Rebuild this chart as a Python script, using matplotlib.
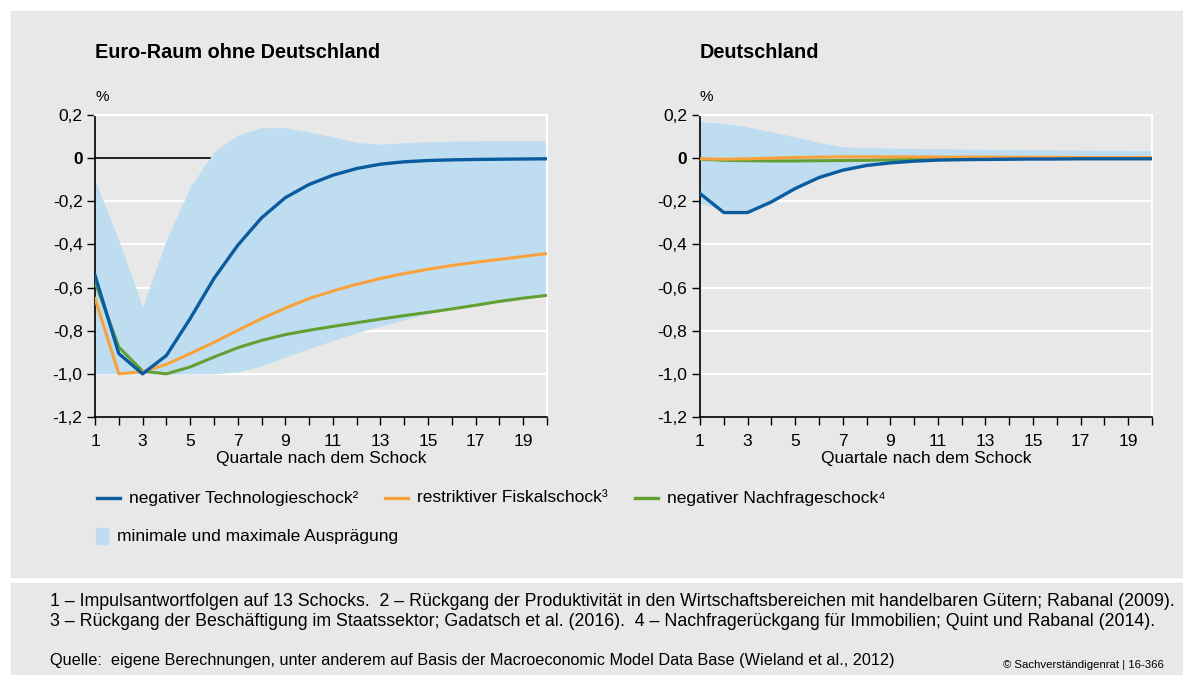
import numpy as np
import matplotlib.pyplot as plt
from matplotlib.patches import Rectangle
from matplotlib.lines import Line2D

plt.rcParams['font.family'] = ['Liberation Sans', 'DejaVu Sans']

quarters = np.arange(1, 21)

# Euro-Raum ohne Deutschland
ez_tech = [-0.543, -0.906, -1.0, -0.915, -0.744, -0.558, -0.404, -0.277, -0.183, -0.122,
           -0.079, -0.048, -0.028, -0.017, -0.011, -0.008, -0.006, -0.005, -0.004, -0.003]
ez_fisk = [-0.651, -1.0, -0.99, -0.956, -0.906, -0.854, -0.798, -0.744, -0.695, -0.651,
           -0.616, -0.585, -0.558, -0.535, -0.515, -0.498, -0.483, -0.469, -0.456, -0.442]
ez_nach = [-0.574, -0.876, -0.987, -1.0, -0.968, -0.922, -0.879, -0.845, -0.818, -0.798,
           -0.78, -0.763, -0.746, -0.730, -0.715, -0.699, -0.682, -0.664, -0.649, -0.636]
ez_max = [-0.102, -0.38, -0.69, -0.38, -0.133, 0.029, 0.107, 0.141, 0.141, 0.122,
          0.099, 0.073, 0.065, 0.071, 0.076, 0.079, 0.08, 0.081, 0.081, 0.081]
ez_min = [-1.0, -1.0, -1.0, -1.002, -1.0, -1.0, -0.99, -0.964, -0.922, -0.883,
          -0.845, -0.809, -0.778, -0.749, -0.721, -0.699, -0.682, -0.664, -0.649, -0.636]

# Deutschland
de_tech = [-0.164, -0.252, -0.252, -0.203, -0.141, -0.09, -0.056, -0.034, -0.022, -0.014,
           -0.009, -0.007, -0.006, -0.005, -0.004, -0.004, -0.003, -0.003, -0.003, -0.003]
de_fisk = [-0.003, -0.005, -0.003, 0.0, 0.003, 0.005, 0.006, 0.006, 0.006, 0.006,
           0.005, 0.005, 0.005, 0.004, 0.004, 0.004, 0.003, 0.003, 0.003, 0.003]
de_nach = [-0.005, -0.01, -0.012, -0.013, -0.013, -0.012, -0.011, -0.01, -0.008, -0.006,
           -0.004, -0.003, -0.002, -0.001, 0.0, 0.001, 0.001, 0.002, 0.002, 0.002]
de_max = [0.169, 0.161, 0.145, 0.122, 0.099, 0.073, 0.053, 0.048, 0.047, 0.045,
          0.044, 0.042, 0.041, 0.040, 0.039, 0.038, 0.037, 0.036, 0.035, 0.034]
de_min = [-0.21, -0.24, -0.24, -0.2, -0.14, -0.09, -0.056, -0.034, -0.022, -0.015,
          -0.011, -0.009, -0.008, -0.007, -0.006, -0.006, -0.005, -0.005, -0.005, -0.005]

yticks = [0.2, 0, -0.2, -0.4, -0.6, -0.8, -1.0, -1.2]
ytick_labels = ['0,2', '0', '-0,2', '-0,4', '-0,6', '-0,8', '-1,0', '-1,2']

bg = '#e8e8e8'
c_tech = '#0a5c9e'
c_fisk = '#f9a23c'
c_nach = '#62a033'
c_band = '#bfddf1'

W, H = 1183, 675
fig = plt.figure(figsize=(W / 100, H / 100), dpi=100, facecolor='white')

# background panels
fig.patches.append(Rectangle((11 / W, 1 - 577 / H), 1 - 11 / W, (577 - 11) / H,
                             transform=fig.transFigure, color=bg, zorder=-10))
fig.patches.append(Rectangle((11 / W, 0), 1 - 11 / W, 1 - 583 / H,
                             transform=fig.transFigure, color=bg, zorder=-10))


def panel(left_px, title, tech, fisk, nach, lo, hi):
    ax = fig.add_axes([left_px / W, (H - 417) / H, 452 / W, 302 / H])
    ax.set_facecolor(bg)
    ax.set_xlim(1, 20)
    ax.set_ylim(-1.2, 0.2)
    for y in [-0.2, -0.4, -0.6, -0.8, -1.0, 0.2]:
        ax.axhline(y, color='white', lw=1.6, zorder=1)
    ax.axhline(0, color='black', lw=1.2, zorder=1.5)
    ax.fill_between(quarters, lo, hi, color=c_band, lw=0, zorder=2)
    ax.plot(quarters, nach, color=c_nach, lw=2.2, zorder=3)
    ax.plot(quarters, fisk, color=c_fisk, lw=2.2, zorder=3)
    ax.plot(quarters, tech, color=c_tech, lw=2.4, zorder=4)
    ax.set_yticks(yticks)
    ax.set_yticklabels(ytick_labels, fontsize=12.5)
    ax.get_yticklabels()[1].set_fontweight('bold')
    ax.set_xticks(quarters)
    ax.set_xticklabels([str(q) if q % 2 == 1 else '' for q in quarters], fontsize=12.5)
    ax.tick_params(axis='both', direction='out', length=6, width=1, color='black', pad=3)
    ax.tick_params(axis='x', pad=6)
    for s in ['left', 'bottom']:
        ax.spines[s].set_color('black')
        ax.spines[s].set_linewidth(1.2)
    for s in ['top', 'right']:
        ax.spines[s].set_color('white')
        ax.spines[s].set_linewidth(1.6)
    ax.set_xlabel('Quartale nach dem Schock', fontsize=12.5, labelpad=2)
    ax.text(0, 1.035, '%', transform=ax.transAxes, fontsize=11, ha='left', va='bottom')
    fig.text(left_px / W, 1 - 52 / H, title, fontsize=14.3, fontweight='bold',
             ha='left', va='center')
    return ax


panel(95, 'Euro-Raum ohne Deutschland', ez_tech, ez_fisk, ez_nach, ez_min, ez_max)
panel(700, 'Deutschland', de_tech, de_fisk, de_nach, de_min, de_max)

# legend
leg_items = [(97, c_tech, 'negativer Technologieschock²'),
             (385, c_fisk, 'restriktiver Fiskalschock³'),
             (635, c_nach, 'negativer Nachfrageschock⁴')]
for x0, col, lab in leg_items:
    yl = 1 - 498 / H
    fig.lines.append(Line2D([x0 / W, (x0 + 23) / W], [yl, yl], transform=fig.transFigure,
                            color=col, lw=2.4))
    fig.text((x0 + 32) / W, yl, lab, fontsize=12.5, ha='left', va='center')
fig.patches.append(Rectangle((96 / W, 1 - 544 / H), 12 / W, 16 / H,
                             transform=fig.transFigure, color=c_band))
fig.text(117 / W, 1 - 536 / H, 'minimale und maximale Ausprägung', fontsize=12.5,
         ha='left', va='center')

# footnotes
fig.text(50 / W, 1 - 601 / H,
         '1 – Impulsantwortfolgen auf 13 Schocks.  2 – Rückgang der Produktivität in den '
         'Wirtschaftsbereichen mit handelbaren Gütern; Rabanal (2009).',
         fontsize=12.8, ha='left', va='center')
fig.text(50 / W, 1 - 622 / H,
         '3 – Rückgang der Beschäftigung im Staatssektor; Gadatsch et al. (2016).  '
         '4 – Nachfragerückgang für Immobilien; Quint und Rabanal (2014).',
         fontsize=12.8, ha='left', va='center')
fig.text(50 / W, 1 - 661 / H,
         'Quelle:  eigene Berechnungen, unter anderem auf Basis der Macroeconomic Model '
         'Data Base (Wieland et al., 2012)',
         fontsize=11.7, ha='left', va='center')
fig.text(1003 / W, 1 - 665 / H, '© Sachverständigenrat | 16-366', fontsize=8.2,
         ha='left', va='center')

fig.savefig('out.png', dpi=100, facecolor='white')
